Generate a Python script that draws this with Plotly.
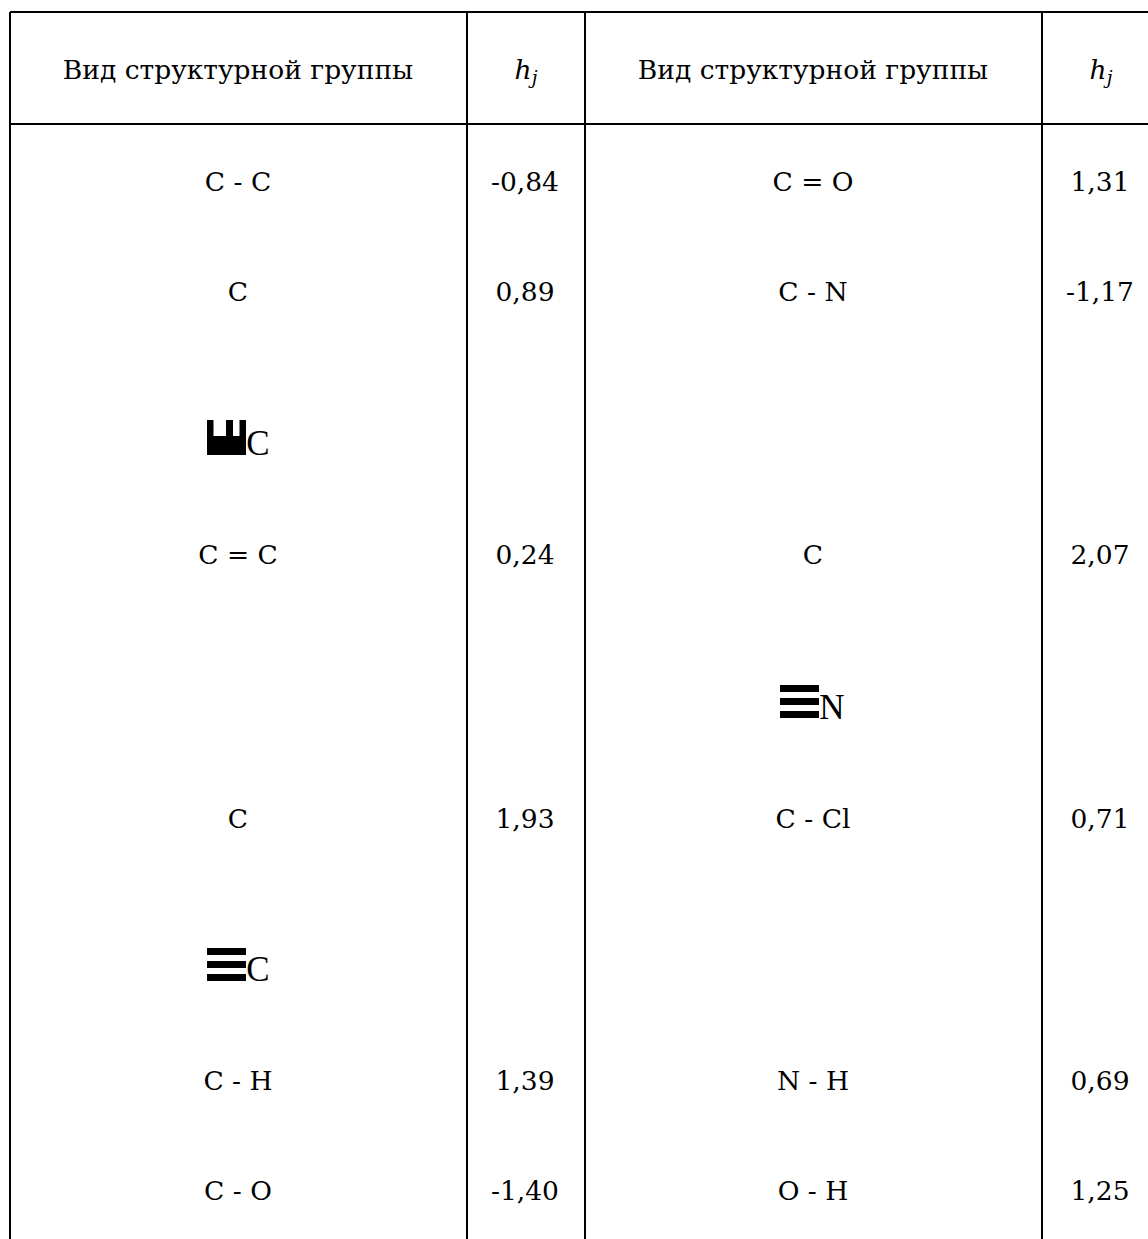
import plotly.graph_objects as go

# --- table content ---
header_group = "Вид структурной группы"
header_h = "h<sub>j</sub>"
left_groups = ["C - C", "C", "C = C", "C", "C - H", "C - O"]
left_values = ["-0,84", "0,89", "0,24", "1,93", "1,39", "-1,40"]
right_groups = ["C = O", "C - N", "C", "C - Cl", "N - H", "O - H"]
right_values = ["1,31", "-1,17", "2,07", "0,71", "0,69", "1,25"]

# --- layout geometry (page pixels) ---
W, H = 1148, 1239
row_y = [184, 294, 557, 821, 1083, 1193]
head_y = 72
col_x = [238, 525, 813, 1100]
v_lines = [10, 467, 585, 1042]
h_lines = [12, 124]
SERIF = "DejaVu Serif"
FS = 26.5
LINE = dict(color="#000000", width=2)

fig = go.Figure()


def column(x, items):
    fig.add_trace(go.Scatter(x=[x] * len(items), y=row_y, text=items, mode="text",
                             textposition="middle center", hoverinfo="skip",
                             textfont=dict(family=SERIF, size=FS, color="#000000"),
                             showlegend=False))


for x, items in zip(col_x, [left_groups, left_values, right_groups, right_values]):
    column(x, items)

fig.add_trace(go.Scatter(x=[col_x[0], col_x[2]], y=[head_y] * 2,
                         text=[header_group, header_group],
                         mode="text", textposition="middle center", hoverinfo="skip",
                         textfont=dict(family=SERIF, size=FS, color="#000000"),
                         showlegend=False))
fig.add_trace(go.Scatter(x=[col_x[1] + 1, col_x[3] + 1], y=[head_y] * 2,
                         text=[header_h, header_h],
                         mode="text", textposition="middle center", hoverinfo="skip",
                         textfont=dict(family=SERIF, size=FS, color="#000000", style="italic"),
                         showlegend=False))

# letters that follow the block glyphs
fig.add_trace(go.Scatter(x=[258, 832, 258], y=[446, 710, 972], text=["C", "N", "C"],
                         mode="text", textposition="middle center", hoverinfo="skip",
                         textfont=dict(family="Liberation Serif", size=35, color="#000000"),
                         showlegend=False))

shapes = []
for x in v_lines:
    shapes.append(dict(type="line", x0=x, x1=x, y0=12, y1=H, line=LINE, layer="below"))
for y in h_lines:
    shapes.append(dict(type="line", x0=10, x1=W, y0=y, y1=y, line=LINE, layer="below"))


def box(x0, x1, y0, y1):
    shapes.append(dict(type="rect", x0=x0, x1=x1, y0=y0, y1=y1,
                       fillcolor="#000000", line=dict(width=0)))


# block glyph above "C"
box(207, 246, 436, 455)
box(207, 213.5, 420, 436)
box(226, 233, 420, 436)
box(239.5, 246, 420, 436)

# triple-bar glyphs
for x0, tops in ((780, (685, 698, 711)), (207, (948, 961, 974))):
    for t in tops:
        box(x0, x0 + 39, t, t + 7)

fig.update_layout(
    width=W, height=H, margin=dict(l=0, r=0, t=0, b=0),
    paper_bgcolor="#ffffff", plot_bgcolor="#ffffff", shapes=shapes, showlegend=False,
    xaxis=dict(range=[0, W], visible=False, fixedrange=True),
    yaxis=dict(range=[H, 0], visible=False, fixedrange=True),
)

fig.write_html("out.html", config={"displayModeBar": False},
               post_script="document.body.style.margin='0';document.body.style.overflow='hidden';")
